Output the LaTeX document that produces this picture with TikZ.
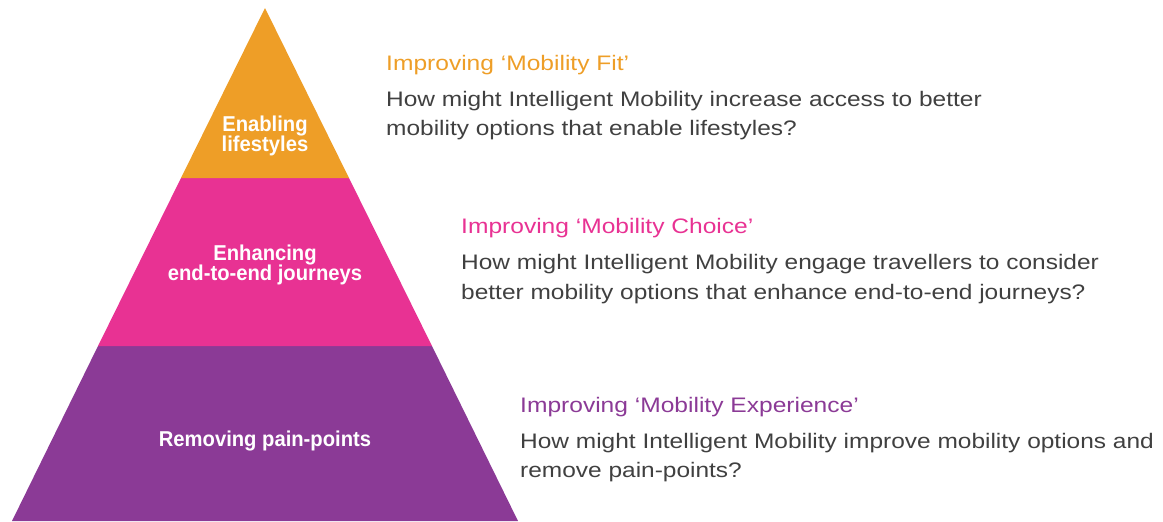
\documentclass[tikz,border=0pt]{standalone}
\usepackage{fontspec}
\setmainfont{Liberation Sans}
\newfontfamily\condb[FakeStretch=0.94]{Liberation Sans Bold}
\newfontfamily\bodyfont[FakeStretch=1.165]{Liberation Sans}
\newfontfamily\headfont[FakeStretch=1.17]{Liberation Sans}
\definecolor{pyrorange}{HTML}{EE9E27}
\definecolor{pyrpink}{HTML}{E83293}
\definecolor{pyrpurple}{HTML}{8B3A96}
\definecolor{bodygray}{HTML}{404040}
\tikzset{
  pyrlabel/.style={anchor=base, inner sep=0pt, text=white, font=\condb\fontsize{21.5}{22}\selectfont},
  headline/.style={anchor=base west, inner sep=0pt, font=\headfont\fontsize{21}{24}\selectfont},
  bodyline/.style={anchor=base west, inner sep=0pt, text=bodygray, font=\bodyfont\fontsize{21}{24}\selectfont},
}
\begin{document}
\begin{tikzpicture}[x=1pt,y=-1pt]
\useasboundingbox (0,0) rectangle (1163,522);
% pyramid
\fill[pyrpurple] (98,346) -- (432,346) -- (518,521) -- (12,521) -- cycle;
\fill[pyrpink] (181,178) -- (349,178) -- (432,346) -- (98,346) -- cycle;
\fill[pyrorange] (265,8) -- (349,178) -- (181,178) -- cycle;
% pyramid labels
\node[pyrlabel] (l1a) at (265,131) {Enabling};
\node[pyrlabel] (l1b) at (265,151) {lifestyles};
\node[pyrlabel] (l2a) at (265,260) {Enhancing};
\node[pyrlabel] (l2b) at (265,280) {end-to-end journeys};
\node[pyrlabel] (l3a) at (265,446) {Removing pain-points};
% text blocks
\node[headline, text=pyrorange] (h1) at (386,70) {Improving ‘Mobility Fit’};
\node[bodyline] (b1a) at (386,106) {How might Intelligent Mobility increase access to better};
\node[bodyline] (b1b) at (386,135) {mobility options that enable lifestyles?};
\node[headline, text=pyrpink] (h2) at (461,233) {Improving ‘Mobility Choice’};
\node[bodyline] (b2a) at (461,269) {How might Intelligent Mobility engage travellers to consider};
\node[bodyline] (b2b) at (461,299) {better mobility options that enhance end-to-end journeys?};
\node[headline, text=pyrpurple] (h3) at (520,412) {Improving ‘Mobility Experience’};
\node[bodyline] (b3a) at (520,448) {How might Intelligent Mobility improve mobility options and};
\node[bodyline] (b3b) at (520,477) {remove pain-points?};
\end{tikzpicture}
\end{document}
